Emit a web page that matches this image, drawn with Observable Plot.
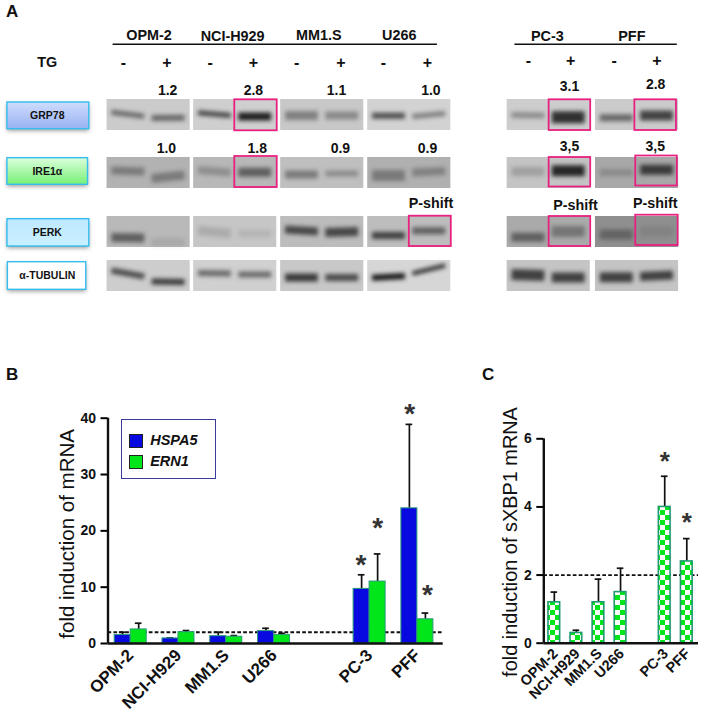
<!DOCTYPE html>
<html><head><meta charset="utf-8">
<script src="https://cdn.jsdelivr.net/npm/d3@7"></script>
<script src="https://cdn.jsdelivr.net/npm/@observablehq/plot@0.6"></script>
<style>
html,body{margin:0;padding:0;background:#fff}
#page{position:relative;width:702px;height:713px;overflow:hidden;font-family:"Liberation Sans",Arial,sans-serif}
#page svg{position:absolute;overflow:visible;background:transparent}
.letter{position:absolute;font-weight:bold;font-size:17px;line-height:17px;color:#111}
#legend{position:absolute;left:120.7px;top:419.3px;width:93px;height:58px;border:1px solid #3b3b9b;box-sizing:content-box;background:#fff;z-index:3}
#legend div{position:absolute;left:28.5px;font:italic bold 14.5px "Liberation Sans",Arial,sans-serif;color:#111;line-height:14px}
#legend i{position:absolute;left:7px;width:12px;height:12px;border:1px solid #222}
.blur{filter:blur(2px)}
.soft{filter:blur(2px)}
</style></head><body><div id="page">
<div class="letter" style="left:6px;top:3px">A</div>
<div class="letter" style="left:6px;top:366px">B</div>
<div class="letter" style="left:482px;top:366px">C</div>
<div id="legend"><i style="top:14px;background:#0808e0"></i><div style="top:13px">HSPA5</div><i style="top:35px;background:#00e61a"></i><div style="top:34px">ERN1</div></div>
</div>
<script>
// ---------- panel A: immunoblots ----------
const blotLines = ["OPM-2","NCI-H929","MM1.S","U266","PC-3","PFF"];
const headerLanes = [0.59,2.52,4.51,6.37,9.79,11.74];
const headerY = [35,36,35,34.5,36,36];
const blockStart = [-0.38,1.62,3.63,5.64,8.86,10.9];
const minusLanes = [0,2,4,6,9.35,11.33];
const plusLanes = [1,3,5.02,7.02,10.33,12.32];
const proteins = ["GRP78","IRE1α","PERK","α-TUBULIN"];
const rowTop = [99,157,216,260];
const blockGrey = [
  ["#cbcbcb","#cfcfcf","#c8c8c8","#d2d2d2","#cdcdcd","#cbcbcb"],
  ["#b2b2b2","#b8b8b8","#bfbfbf","#b0b0b0","#c4c4c4","#a8a8a8"],
  ["#b9b9b9","#c6c6c6","#bcbcbc","#bdbdbd","#aaaaaa","#8f8f8f"],
  ["#cdcdcd","#d0d0d0","#c8c8c8","#d6d6d6","#c4c4c4","#c4c4c4"]
];
// band centre (left end, right end), thickness and density: minus then plus lane for each line
const grp78Y = [[111.7,115.7],[117.5,117.3],[112.3,115],[116,116],[115,115],[115,115],[115.3,115.3],[116,113],[114.5,115],[116.7,116.7],[117.3,117.3],[115,115]];
const grp78Size = [5,6,5,8,9,8,6,5,6,12,7,10];
const grp78Density = [.55,.55,.75,.95,.4,.35,.7,.45,.35,.85,.55,.75];
const ire1Y = [[170,171],[178,174.5],[169.5,172],[171.7,171.7],[174,174],[173,173],[175,175],[172,170.5],[171,171],[170.3,170.3],[172,172],[169.3,169.3]];
const ire1Size = [8,9,8,9,8,6,11,8,9,11,7,10];
const ire1Density = [.35,.35,.25,.55,.4,.3,.35,.3,.2,.9,.2,.75];
const perkY = [[237,237.5],[241.7,241.7],[230,233],[233,233],[229,231],[232,231],[235,235],[230.3,230.3],[236.7,236.7],[231,231],[234,234],[231,231]];
const perkSize = [9,8,9,7,8,9,7,7,9,11,10,10];
const perkDensity = [.55,.1,.15,.1,.7,.7,.75,.55,.5,.35,.35,.1];
const tubY = [[270,276],[281,281.5],[272.5,273],[274,274],[277,277],[277,277],[277.3,275.5],[273,265],[274,275],[277,277],[276.7,276.7],[276,274.5]];
const tubSize = [6,6,6,6,8,7,6,4,11,10,10,9];
const tubDensity = [.7,.8,.55,.55,.8,.7,1,.9,.75,.75,.75,.75];
const foldLanes = [1.02,3,4.92,7.1,10.3,12.29];
const foldGrp78 = ["1.2","2.8","1.1","1.0","3.1","2.8"];
const foldGrp78Y = [90,90,90,90,86,84.5];
const foldIre1Lanes = [.99,3.09,5.01,7.02,10.3,12.28];
const foldIre1 = ["1.0","1.8","0.9","0.9","3,5","3,5"];
const foldIre1Y = [148.3,148.3,148.3,148.3,146,146.5];
const pshiftLanes = [7.1,10.44,12.28];
const pshiftY = [202.7,205,203];
const hiLanes = [[2.57,3.55,99.3,130.3],[2.57,3.55,156,187],[6.6,7.57,215.7,246],[9.83,10.79,99.3,130],[9.83,10.79,157,186.5],[9.83,10.79,216,246],[11.81,12.77,99.3,130],[11.83,12.79,155.5,185.5],[11.83,12.81,214.7,245]];

// ---------- panels B, C: mRNA ----------
const cellLines = ["OPM-2","NCI-H929","MM1.S","U266","PC-3","PFF"];
const slots = [0,1,2,3,5,6];
const hspa5 = [1.5,0.9,1.3,2.2,9.7,24];
const hspa5Top = [2.0,1.0,2.0,2.7,12.2,38.9];
const ern1 = [2.5,2.0,1.2,1.5,11,4.3];
const ern1Top = [3.6,2.3,1.4,1.8,15.9,5.4];
const sxbp1 = [1.2,0.3,1.2,1.5,4.0,2.4];
const sxbp1Top = [1.5,0.38,1.88,2.2,4.9,3.07];
const starsB = [{x:4.82,y:14.4},{x:5.17,y:21},{x:5.84,y:41.2},{x:6.21,y:9.1}];
const starsC = [{x:5,y:5.41},{x:6,y:3.62}];

const page = document.getElementById("page");
function place(el,left,top){el.style.left=left+"px";el.style.top=top+"px";page.appendChild(el);}

// panel A
const bandPts=[];
[[grp78Y,grp78Size,grp78Density],[ire1Y,ire1Size,ire1Density],[perkY,perkSize,perkDensity],[tubY,tubSize,tubDensity]].forEach((r,ri)=>{
  r[0].forEach((yy,i)=>{
    const c=Math.floor(i/2), lane=i%2, mid=blockStart[c]+(lane?1.41:.48);
    const id=ri+"-"+i;
    bandPts.push({id,x:mid-.38,y:yy[0],w:r[1][i],o:r[2][i]});
    bandPts.push({id,x:mid+.38,y:yy[1],w:r[1][i],o:r[2][i]});
  });
});
const blocks=[];
proteins.forEach((p,ri)=>blotLines.forEach((c,ci)=>blocks.push({x1:blockStart[ci],x2:blockStart[ci]+1.92,y1:rowTop[ri],y2:rowTop[ri]+31,g:blockGrey[ri][ci]})));
const labelBoxes=[
 {p:proteins[0],x1:-2.68,x2:-.79,y1:102,y2:128.7,f:"url(#gBlue)"},
 {p:proteins[1],x1:-2.68,x2:-.82,y1:157.7,y2:184.3,f:"url(#gGreen)"},
 {p:proteins[2],x1:-2.68,x2:-.79,y1:218.7,y2:246,f:"url(#gCyan)"},
 {p:proteins[3],x1:-2.67,x2:-.86,y1:261.7,y2:289.3,f:"#fff"}
];
const defsA=()=>{
  const s=d3.create("svg:defs");
  [["gBlue","#cfdcfb","#98b2f4"],["gGreen","#dcffdc","#76f076"],["gCyan","#bfe9ff","#c9f0ff"]].forEach(([id,top,bot])=>{
    const g=s.append("linearGradient").attr("id",id).attr("x1",0).attr("x2",0).attr("y1",0).attr("y2",1);
    g.append("stop").attr("offset",0).attr("stop-color",top);
    g.append("stop").attr("offset",1).attr("stop-color",bot);
  });
  return s.node();
};
const txt=(o)=>({fontFamily:"Liberation Sans",fontWeight:"bold",fill:"#111",...o});
const plotA=Plot.plot({
  width:702,height:310,margin:0,
  x:{domain:[-123/43.3,(702-123)/43.3],axis:null},
  y:{domain:[0,310],range:[0,310],axis:null},
  marks:[
    defsA,
    Plot.rect(blocks,{x1:"x1",x2:"x2",y1:"y1",y2:"y2",fill:"g"}),
    Plot.line(bandPts,{x:"x",y:"y",z:"id",stroke:"#151515",strokeWidth:"w",strokeOpacity:"o",strokeLinecap:"butt",className:"blur"}),
    Plot.rect(hiLanes,{x1:"0",x2:"1",y1:"2",y2:"3",fill:"none",stroke:"#e8207f",strokeWidth:1.8}),
    Plot.rect(labelBoxes,{x1:"x1",x2:"x2",y1:d=>d.y1+2,y2:d=>d.y2+2,fill:"#444",fillOpacity:.55,className:"soft"}),
    Plot.rect(labelBoxes,{x1:"x1",x2:"x2",y1:"y1",y2:"y2",fill:"f",stroke:"#35bdf0",strokeWidth:1.4}),
    Plot.text(labelBoxes,txt({x:-1.76,y:d=>(d.y1+d.y2)/2,text:"p",fontSize:10.5})),
    Plot.ruleY([43.7],{x1:-0.24,x2:7.25,stroke:"#111",strokeWidth:1.4}),
    Plot.ruleY([43.7],{x1:9.04,x2:12.79,stroke:"#111",strokeWidth:1.4}),
    Plot.text(blotLines,txt({x:(d,i)=>headerLanes[i],y:(d,i)=>headerY[i],text:d=>d,fontSize:14.4})),
    Plot.text(["TG"],txt({x:-1.76,y:62,text:d=>d,fontSize:14.4})),
    Plot.text(minusLanes,txt({x:d=>d,y:(d,i)=>i>3?60.5:62.5,text:()=>"-",fontSize:16})),
    Plot.text(plusLanes,txt({x:d=>d,y:(d,i)=>i>3?60.5:62.5,text:()=>"+",fontSize:16})),
    Plot.text(foldGrp78,txt({x:(d,i)=>foldLanes[i],y:(d,i)=>foldGrp78Y[i],text:d=>d,fontSize:14})),
    Plot.text(foldIre1,txt({x:(d,i)=>foldIre1Lanes[i],y:(d,i)=>foldIre1Y[i],text:d=>d,fontSize:14})),
    Plot.text(pshiftLanes,txt({x:d=>d,y:(d,i)=>pshiftY[i],text:()=>"P-shift",fontSize:14.3}))
  ]
});
place(plotA,0,0);

// panel B
const tableB=[];
cellLines.forEach((c,i)=>{
  tableB.push({c,series:"HSPA5",x1:slots[i]-.335,x2:slots[i],v:hspa5[i],top:hspa5Top[i]});
  tableB.push({c,series:"ERN1",x1:slots[i],x2:slots[i]+.335,v:ern1[i],top:ern1Top[i]});
});
const midB=d=>(d.x1+d.x2)/2;
const axisStyle={fontFamily:"Liberation Sans",fontWeight:"bold",fill:"#111"};
const plotB=Plot.plot({
  width:480,height:353,marginLeft:107.5,marginRight:37.3,marginTop:57.7,marginBottom:70,
  style:{fontFamily:"Liberation Sans",overflow:"visible"},
  x:{domain:[-0.475,6.54],axis:null},
  y:{domain:[0,40],axis:null},
  color:{domain:["HSPA5","ERN1"],range:["#0808e0","#00e61a"]},
  marks:[
    Plot.ruleY([2],{stroke:"#111",strokeWidth:1.8,strokeDasharray:"3.7,2.2"}),
    Plot.ruleX(tableB,{x:midB,y1:"v",y2:"top",stroke:"#111",strokeWidth:1.7}),
    Plot.ruleY(tableB,{y:"top",x1:d=>midB(d)-.07,x2:d=>midB(d)+.07,stroke:"#111",strokeWidth:1.7}),
    Plot.rectY(tableB,{x1:"x1",x2:"x2",y:"v",fill:"series",stroke:"#2a9a78",strokeWidth:1}),
    Plot.ruleY([0],{stroke:"#111",strokeWidth:2.4}),
    Plot.ruleX([-0.475],{y1:0,y2:40,stroke:"#111",strokeWidth:2.4}),
    Plot.axisY({ticks:[0,10,20,30,40],tickSize:7,tickPadding:5,fontSize:14,strokeWidth:2,...axisStyle,label:null}),
    Plot.axisX({ticks:slots,tickFormat:s=>cellLines[slots.indexOf(s)],tickRotate:-45,tickSize:0,tickPadding:9,fontSize:17,...axisStyle,label:null}),
    Plot.text(["fold induction of mRNA"],{frameAnchor:"left",textAnchor:"middle",dx:-41,dy:3,rotate:-90,fontSize:20.5,fill:"#111",fontFamily:"Liberation Sans"}),
    Plot.text(starsB,{x:"x",y:"y",text:()=>"*",fontSize:28,fontWeight:"bold",dy:3,fill:"#333",fontFamily:"Liberation Sans"})
  ]
});
place(plotB,0,360);

// panel C
const tableC=cellLines.map((c,i)=>({c,x:slots[i],v:sxbp1[i],top:sxbp1Top[i]}));
const defsC=()=>{
  const s=d3.create("svg:defs");
  const p=s.append("pattern").attr("id","checker").attr("patternUnits","userSpaceOnUse").attr("width",10).attr("height",10);
  p.append("rect").attr("width",10).attr("height",10).attr("fill","#ffffff");
  p.append("rect").attr("width",5).attr("height",5).attr("fill","#00e61a");
  p.append("rect").attr("x",5).attr("y",5).attr("width",5).attr("height",5).attr("fill","#00e61a");
  return s.node();
};
const plotC=Plot.plot({
  width:222,height:353,marginLeft:63.3,marginRight:4,marginTop:78.3,marginBottom:70.3,
  style:{fontFamily:"Liberation Sans",overflow:"visible"},
  x:{domain:[-0.476,6.53],axis:null},
  y:{domain:[0,6],axis:null},
  marks:[
    defsC,
    Plot.ruleY([2],{stroke:"#111",strokeWidth:1.8,strokeDasharray:"3.7,2.2"}),
    Plot.ruleX(tableC,{x:"x",y1:"v",y2:"top",stroke:"#111",strokeWidth:1.7}),
    Plot.ruleY(tableC,{y:"top",x1:d=>d.x-.15,x2:d=>d.x+.15,stroke:"#111",strokeWidth:1.7}),
    Plot.rectY(tableC,{x1:d=>d.x-.265,x2:d=>d.x+.265,y:"v",fill:"url(#checker)",stroke:"#1f9a70",strokeWidth:1.6}),
    Plot.ruleY([0],{stroke:"#111",strokeWidth:2.4}),
    Plot.ruleX([-0.476],{y1:0,y2:6,stroke:"#111",strokeWidth:2.4}),
    Plot.axisY({ticks:[0,2,4,6],tickFormat:d=>d,tickSize:7,tickPadding:5,fontSize:14,strokeWidth:2,...axisStyle,label:null}),
    Plot.axisX({ticks:slots,tickFormat:s=>cellLines[slots.indexOf(s)],tickRotate:-45,tickSize:0,tickPadding:8,dx:1,fontSize:14.5,...axisStyle,label:null}),
    Plot.text(["fold induction of sXBP1 mRNA"],{frameAnchor:"left",textAnchor:"middle",dx:-33,dy:1,rotate:-90,fontSize:19.9,fill:"#111",fontFamily:"Liberation Sans"}),
    Plot.text(starsC,{x:"x",y:"y",text:()=>"*",fontSize:26,fontWeight:"bold",dy:3,fill:"#333",fontFamily:"Liberation Sans"})
  ]
});
place(plotC,480,360);
</script></body></html>
